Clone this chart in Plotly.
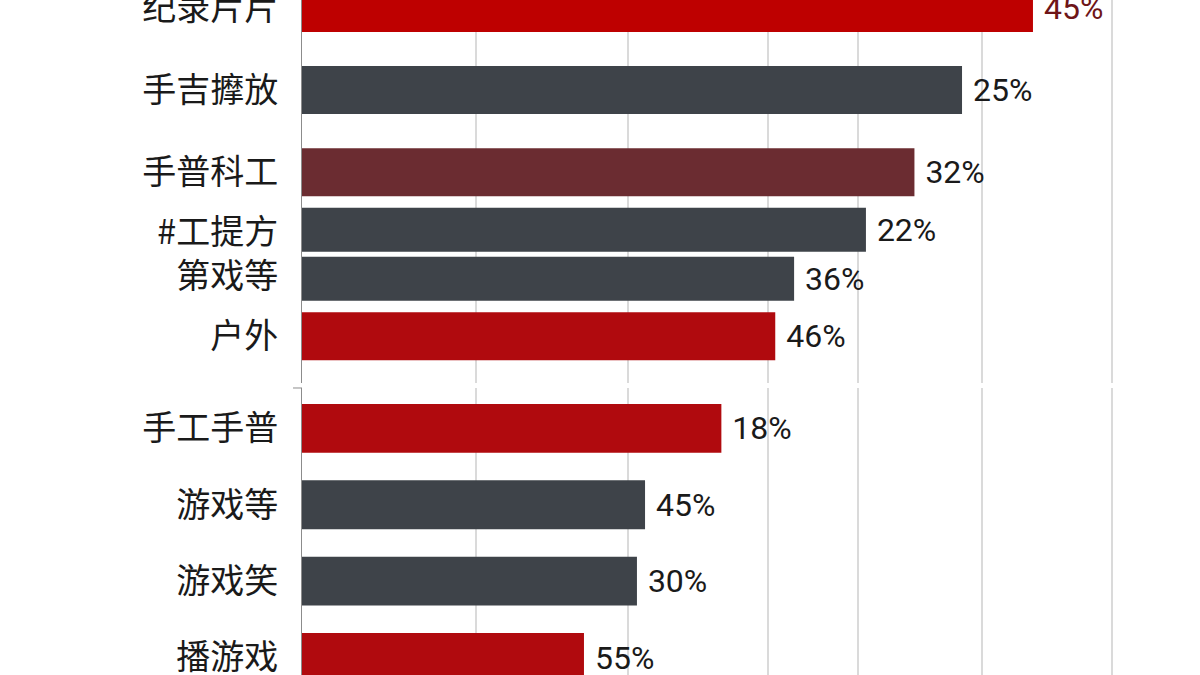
import plotly.graph_objects as go

# ---------------- data ----------------
top_bar_labels = ["纪录片片", "手吉擵放", "手普科工", "#工提方", "第戏等", "户外"]
top_scores = [81.4, 73.5, 68.2, 62.8, 54.8, 52.7]
top_pct_labels = ["45%", "25%", "32%", "22%", "36%", "46%"]

bottom_bar_labels = ["手工手普", "游戏等", "游戏笑", "播游戏"]
bottom_scores = [46.7, 38.2, 37.3, 31.4]
bottom_pct_labels = ["18%", "45%", "30%", "55%"]

paired_labels = ["#工提方", "第戏等"]          # two bars that share one label slot
grid_values = [19.4, 36.3, 51.9, 61.9, 75.7, 90.2]

# ---------------- styles ----------------
RED = "#BE0000"
RED2 = "#B00A0E"
GRAY = "#3E4349"
MAROON = "#6B2C31"
top_colors = [RED, GRAY, MAROON, GRAY, GRAY, RED2]
bottom_colors = [RED2, GRAY, GRAY, RED2]
top_text_colors = ["#6E1518", "#1A1A1A", "#1A1A1A", "#1A1A1A", "#1A1A1A", "#1A1A1A"]
bottom_text_colors = ["#1A1A1A"] * 4

pair_cat = "<br>".join(paired_labels)
top_cats = [pair_cat if l in paired_labels else l for l in top_bar_labels]
top_category_order = []
for c in top_cats:
    if c not in top_category_order:
        top_category_order.append(c)

W_SINGLE = 0.585
W_PAIR = 0.536
PAIR_SHIFT = 0.2985
top_widths, top_offsets = [], []
for l in top_bar_labels:
    if l in paired_labels:
        idx = paired_labels.index(l)
        shift = -PAIR_SHIFT if idx == 0 else PAIR_SHIFT
        top_widths.append(W_PAIR)
        top_offsets.append(shift - W_PAIR / 2)
    else:
        top_widths.append(W_SINGLE)
        top_offsets.append(-W_SINGLE / 2)

W_BOTTOM = 0.64
NBSP = "\u00a0"

fig = go.Figure()
fig.add_trace(go.Bar(
    orientation="h", x=top_scores, y=top_cats, xaxis="x", yaxis="y",
    marker=dict(color=top_colors, line=dict(width=0)),
    width=top_widths, offset=top_offsets,
    text=[NBSP + t for t in top_pct_labels], textposition="outside",
    cliponaxis=False, constraintext="none",
    outsidetextfont=dict(family="Roboto", size=32, color=top_text_colors),
    hoverinfo="skip",
))
fig.add_trace(go.Bar(
    orientation="h", x=bottom_scores, y=bottom_bar_labels, xaxis="x2", yaxis="y2",
    marker=dict(color=bottom_colors, line=dict(width=0)),
    width=W_BOTTOM, offset=-W_BOTTOM / 2,
    text=[NBSP + t for t in bottom_pct_labels], textposition="outside",
    cliponaxis=False, constraintext="none",
    outsidetextfont=dict(family="Roboto", size=32, color=bottom_text_colors),
    hoverinfo="skip",
))

xcommon = dict(range=[0, 100], tickmode="array", tickvals=grid_values,
               showticklabels=False, ticks="", showgrid=True,
               gridcolor="#DADADA", gridwidth=1.5, zeroline=False,
               showline=False, fixedrange=True, automargin=False)
ycommon = dict(type="category", showline=True, linecolor="#8C8C8C", linewidth=1,
               ticks="", showgrid=False, zeroline=False, ticklabelstandoff=16,
               tickfont=dict(family="Noto Sans CJK SC", size=34, color="#1A1A1A"),
               fixedrange=True, automargin=False)

fig.update_layout(
    template="none",
    width=1200, height=675,
    margin=dict(l=302, r=0, t=0, b=0, pad=0),
    paper_bgcolor="white", plot_bgcolor="white",
    showlegend=False, barmode="overlay",
    xaxis=dict(domain=[0, 1], anchor="y", **xcommon),
    xaxis2=dict(domain=[0, 1], anchor="y2", **xcommon),
    yaxis=dict(domain=[0.4326, 1], anchor="x", categoryorder="array",
               categoryarray=top_category_order, range=[4.569, -0.0975], **ycommon),
    yaxis2=dict(domain=[0, 0.4252], anchor="x2", categoryorder="array",
                categoryarray=bottom_bar_labels, range=[3.229, -0.529], **ycommon),
    shapes=[dict(type="line", xref="paper", yref="paper",
                 x0=-0.01, x1=0, y0=0.4252, y1=0.4252,
                 line=dict(color="#8C8C8C", width=1))],
)

fig.write_html("out.html", config={"displayModeBar": False})
